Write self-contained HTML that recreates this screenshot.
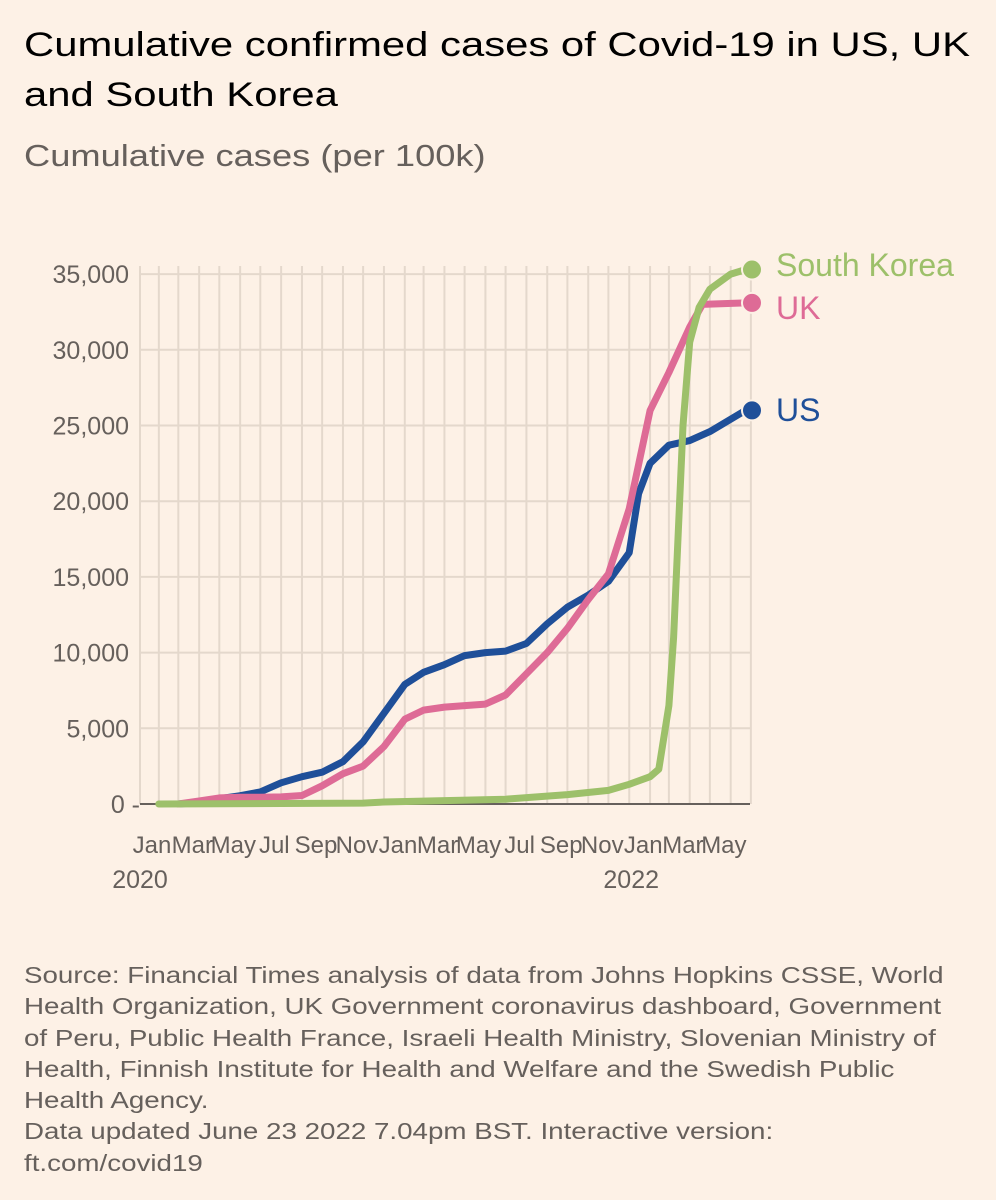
<!DOCTYPE html>
<html><head><meta charset="utf-8">
<style>
html,body{margin:0;padding:0;background:#fdf1e6;}
body{width:996px;height:1200px;overflow:hidden;font-family:"Liberation Sans",sans-serif;}
.t{position:absolute;left:24px;color:#000;font-size:34px;line-height:50px;white-space:nowrap;transform:scaleX(1.23);transform-origin:0 0;}
.src{position:absolute;left:24px;top:960px;color:#66605c;font-size:23.5px;line-height:31.3px;white-space:nowrap;transform:scaleX(1.18);transform-origin:0 0;}
</style></head>
<body>
<div class="t" style="top:20px;">Cumulative confirmed cases of Covid-19 in US, UK<br>and South Korea</div>
<div style="position:absolute;left:24px;top:138px;font-size:31px;color:#66605c;white-space:nowrap;transform:scaleX(1.17);transform-origin:0 0;">Cumulative cases (per 100k)</div>
<svg id="chart" width="996" height="940" style="position:absolute;left:0;top:0"></svg>
<div class="src">Source: Financial Times analysis of data from Johns Hopkins CSSE, World<br>Health Organization, UK Government coronavirus dashboard, Government<br>of Peru, Public Health France, Israeli Health Ministry, Slovenian Ministry of<br>Health, Finnish Institute for Health and Welfare and the Swedish Public<br>Health Agency.<br>Data updated June 23 2022 7.04pm BST. Interactive version:<br>ft.com/covid19</div>
<script>
const yTicks=[0,5000,10000,15000,20000,25000,30000,35000];
const xTickLabels=["Jan","Mar","May","Jul","Sep","Nov","Jan","Mar","May","Jul","Sep","Nov","Jan","Mar","May"];
const xTickDates=["2020-01-01","2020-03-01","2020-05-01","2020-07-01","2020-09-01","2020-11-01","2021-01-01","2021-03-01","2021-05-01","2021-07-01","2021-09-01","2021-11-01","2022-01-01","2022-03-01","2022-05-01"];
const usDates=["2020-03-01","2020-04-01","2020-05-01","2020-06-01","2020-07-01","2020-08-01","2020-09-01","2020-10-01","2020-11-01","2020-12-01","2021-01-01","2021-02-01","2021-03-01","2021-04-01","2021-05-01","2021-06-01","2021-07-01","2021-08-01","2021-09-01","2021-10-01","2021-11-01","2021-12-01","2022-01-01","2022-01-15","2022-02-01","2022-03-01","2022-04-01","2022-05-01","2022-06-23"];
const usValues=[0,100,350,550,800,1400,1800,2100,2800,4100,6000,7900,8700,9200,9800,10000,10100,10600,11900,13000,13800,14700,16600,20500,22500,23700,24000,24600,26000];
const ukDates=["2020-03-01","2020-04-01","2020-05-01","2020-06-01","2020-07-01","2020-08-01","2020-09-01","2020-10-01","2020-11-01","2020-12-01","2021-01-01","2021-02-01","2021-03-01","2021-04-01","2021-05-01","2021-06-01","2021-07-01","2021-08-01","2021-09-01","2021-10-01","2021-11-01","2021-12-01","2022-01-01","2022-02-01","2022-03-01","2022-04-01","2022-04-20","2022-06-23"];
const ukValues=[0,200,400,440,440,470,560,1200,2000,2500,3800,5600,6200,6400,6500,6600,7200,8600,10000,11600,13500,15200,19500,26000,28500,31500,33000,33100];
const krDates=["2020-02-01","2020-12-01","2021-01-01","2021-07-01","2021-10-01","2021-12-01","2022-01-01","2022-02-01","2022-02-14","2022-03-01","2022-03-08","2022-03-15","2022-03-22","2022-04-01","2022-04-15","2022-05-01","2022-06-01","2022-06-23"];
const krValues=[0,60,130,320,620,900,1300,1800,2300,6500,11000,18000,25000,30500,32800,34000,35000,35300];

const svg=document.getElementById('chart');
const NS='http://www.w3.org/2000/svg';
const t0=Date.parse("2020-01-01"), day=86400000;
const X0=138,K=0.672;
const x=d=>X0+(Date.parse(d)-t0)/day*K;
const Y0=804,YK=75.7/5000;
const y=v=>Y0-v*YK;
const PL=140,PR=750,PT=266;
function mk(tag,attrs,parent){const e=document.createElementNS(NS,tag);for(const k in attrs)e.setAttribute(k,attrs[k]);(parent||svg).appendChild(e);return e;}
const grid=mk('g',{});


mk('line',{x1:PL,x2:PL,y1:PT,y2:Y0,stroke:'#e4d8cc','stroke-width':2},grid);
for(let yr=2020;yr<=2022;yr++)for(let m=1;m<=12;m++){
  const ds=yr+'-'+String(m).padStart(2,'0')+'-01';
  const xx=x(ds); if(xx<=PL+3||xx>PR+1)continue;
  mk('line',{x1:xx,x2:xx,y1:PT,y2:Y0,stroke:'#e4d8cc','stroke-width':2},grid);
}
yTicks.forEach(v=>{
  if(v>0)mk('line',{x1:PL,x2:PR,y1:y(v),y2:y(v),stroke:'#e4d8cc','stroke-width':2},grid);
  const tx=mk('text',{x:v===0?140:129,y:y(v)+9,'text-anchor':'end','font-size':25,fill:'#66605c'});
  
  
  tx.textContent=v.toLocaleString('en-US')+(v===0?' -':'');
});
const base=mk('line',{x1:PL,x2:PR,y1:Y0,y2:Y0,stroke:'#66605c','stroke-width':2});


xTickLabels.forEach((l,i)=>{
  const tx=mk('text',{x:x(xTickDates[i])+14,y:853,'text-anchor':'middle','font-size':24,fill:'#66605c'});
  
  
  tx.textContent=l;
});
[["2020","2020-01-01"],["2022","2022-01-01"]].forEach(p=>{
  const tx=mk('text',{x:x(p[1])+2,y:888,'text-anchor':'middle','font-size':25,fill:'#66605c'});
  
  
  tx.textContent=p[0];
});
function series(dates,vals,color,name,label,ly){
  let d='';dates.forEach((dt,i)=>{d+=(i?'L':'M')+x(dt).toFixed(1)+','+y(vals[i]).toFixed(1);});
  const p=mk('path',{d:d,fill:'none',stroke:color,'stroke-width':7,'stroke-linejoin':'round','stroke-linecap':'round'});
  
  
  const lyv=y(vals[vals.length-1]);
  const c=mk('circle',{cx:752,cy:lyv,r:10,fill:color,stroke:'#fdf1e6','stroke-width':2});
  
  
  const t=mk('text',{x:776,y:ly,'font-size':32,fill:color});
  
  
  t.textContent=label;
}
series(usDates,usValues,'#1f4f99','us','US',421);
series(ukDates,ukValues,'#de6b96','uk','UK',319);
series(krDates,krValues,'#9dc06a','south-korea','South Korea',276);
</script>
</body></html>
